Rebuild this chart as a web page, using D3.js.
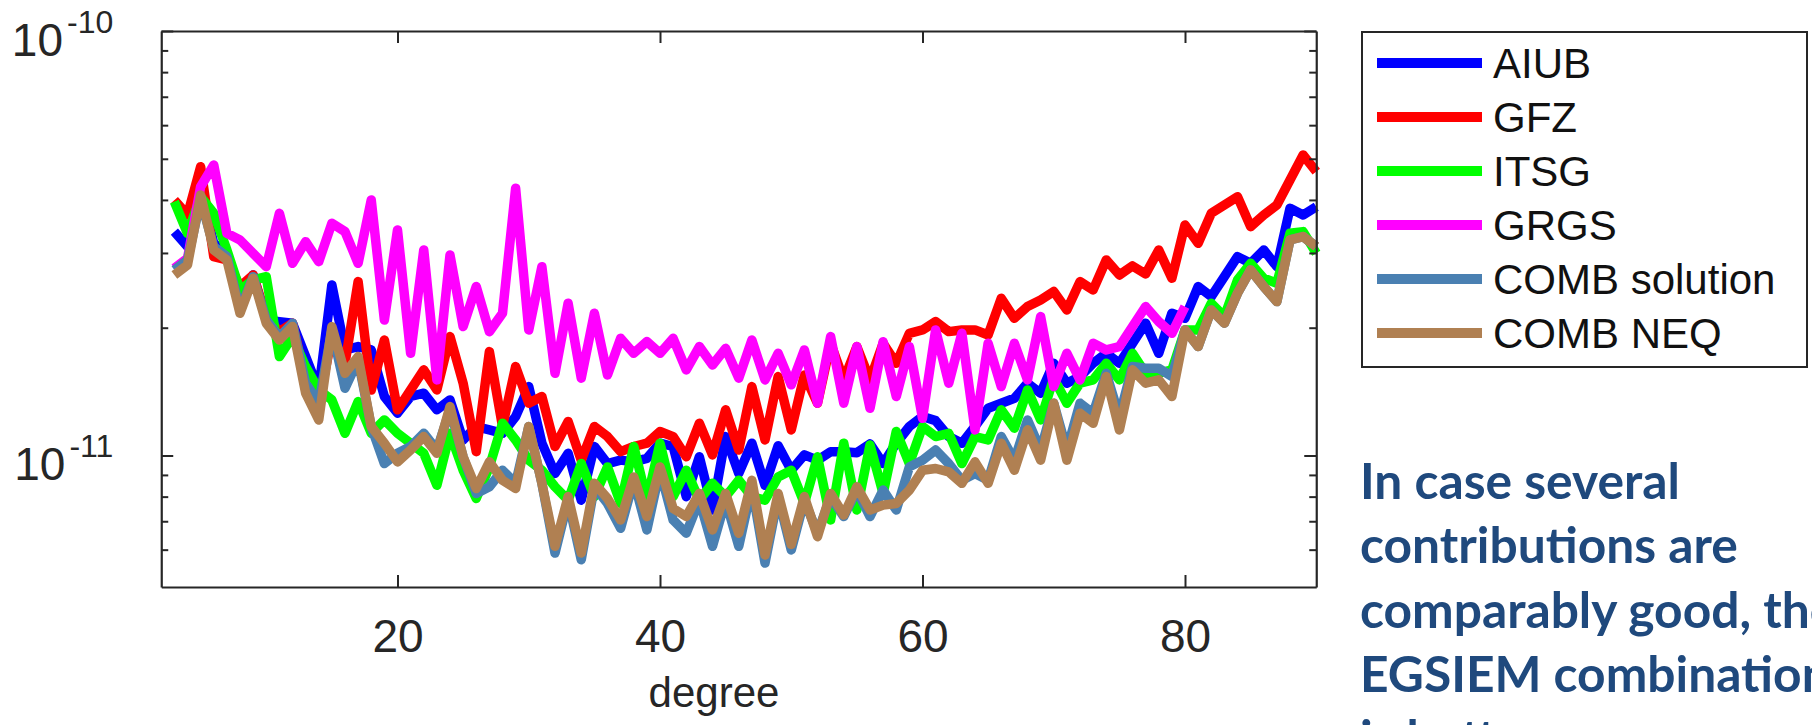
<!DOCTYPE html>
<html><head><meta charset="utf-8">
<script src="https://cdn.jsdelivr.net/npm/d3@7"></script>
<style>
html,body{margin:0;padding:0;background:#fff;overflow:hidden;}
svg{display:block;}
</style></head><body>
<svg id="chart" width="1812" height="725"></svg>
<script>
// ---- data (values in units of 1e-11) ----
const degrees = [3,4,5,6,7,8,9,10,11,12,13,14,15,16,17,18,19,20,21,22,23,24,25,26,27,28,29,30,31,32,33,34,35,36,37,38,39,40,41,42,43,44,45,46,47,48,49,50,51,52,53,54,55,56,57,58,59,60,61,62,63,64,65,66,67,68,69,70,71,72,73,74,75,76,77,78,79,80,81,82,83,84,85,86,87,88,89,90];
const grgsDegrees = [3,4,5,6,7,8,9,10,11,12,13,14,15,16,17,18,19,20,21,22,23,24,25,26,27,28,29,30,31,32,33,34,35,36,37,38,39,40,41,42,43,44,45,46,47,48,49,50,51,52,53,54,55,56,57,58,59,60,61,62,63,64,65,66,67,68,69,70,71,72,73,74,75,76,77,78,79,80];

const AIUB = [3.368,3.105,4.221,3.161,2.994,2.243,2.662,2.086,2.067,2.049,1.710,1.427,2.522,1.773,1.805,1.773,1.377,1.258,1.377,1.402,1.281,1.352,1.088,1.170,1.149,1.128,1.235,1.453,1.069,0.907,1.012,0.785,1.050,0.957,0.975,0.966,0.984,1.069,1.050,0.800,0.993,0.744,1.108,0.907,1.069,0.851,1.054,0.923,1.003,0.975,1.021,1.021,1.015,1.065,0.957,1.069,1.170,1.235,1.208,1.108,1.069,1.170,1.292,1.328,1.364,1.480,1.402,1.649,1.480,1.534,1.649,1.741,1.649,1.838,2.049,1.741,2.163,2.105,2.500,2.368,2.638,2.941,2.836,3.049,2.785,3.822,3.686,3.856];
const GFZ = [3.998,3.686,4.791,2.941,2.888,2.500,2.662,2.124,1.958,2.049,1.507,1.328,1.906,1.649,2.568,1.427,1.871,1.281,1.427,1.591,1.427,1.906,1.480,1.021,1.757,1.170,1.620,1.328,1.377,1.050,1.202,0.975,1.170,1.108,1.021,1.050,1.069,1.139,1.108,0.993,1.191,1.003,1.281,1.030,1.453,1.088,1.534,1.149,1.548,1.328,1.838,1.507,1.805,1.507,1.838,1.649,1.940,1.976,2.067,1.958,1.976,1.976,1.923,2.346,2.105,2.243,2.325,2.433,2.202,2.568,2.455,2.888,2.662,2.796,2.677,3.049,2.615,3.492,3.161,3.720,3.891,4.071,3.460,3.686,3.891,4.457,5.104,4.663];
const ITSG = [3.962,3.337,4.071,3.720,3.049,2.455,2.591,2.638,1.710,1.906,1.620,1.427,1.352,1.128,1.340,1.128,1.213,1.128,1.069,1.012,0.851,1.128,0.923,0.792,0.940,1.191,1.088,0.975,0.923,0.844,0.785,0.957,0.800,0.940,0.771,1.050,0.785,1.069,0.800,0.923,0.785,0.860,0.800,0.874,0.800,0.785,0.890,0.923,0.771,0.993,0.705,1.069,0.744,1.059,0.814,1.139,0.957,1.170,1.108,1.128,0.957,1.108,1.088,1.281,1.160,1.427,1.213,1.521,1.328,1.480,1.507,1.649,1.507,1.741,1.562,1.562,1.591,1.976,1.976,2.284,2.124,2.591,2.836,2.615,2.545,3.337,3.368,2.994];
const GRGS = [2.760,2.914,4.298,4.834,3.337,3.219,2.994,2.785,3.720,2.836,3.190,2.862,3.523,3.368,2.836,3.998,2.086,3.398,1.741,3.049,1.507,2.967,2.012,2.500,1.958,2.163,4.260,1.976,2.785,1.562,2.284,1.521,2.163,1.548,1.888,1.741,1.854,1.741,1.888,1.591,1.805,1.634,1.788,1.521,1.871,1.507,1.741,1.467,1.773,1.328,1.906,1.328,1.805,1.292,1.854,1.377,1.805,1.224,1.976,1.480,1.940,1.149,1.838,1.453,1.838,1.507,2.124,1.453,1.741,1.507,1.838,1.773,1.805,2.012,2.243,2.067,1.940,2.243];
const COMB_solution = [2.736,2.888,3.998,3.105,2.941,2.202,2.638,2.086,1.906,2.049,1.480,1.328,1.976,1.440,1.679,1.170,0.957,1.012,1.050,1.128,1.030,1.281,0.993,0.814,0.844,0.923,0.860,1.170,0.860,0.589,0.785,0.568,0.844,0.771,0.674,0.874,0.668,0.923,0.705,0.656,0.785,0.611,0.785,0.611,0.844,0.558,0.800,0.599,0.785,0.656,0.800,0.718,0.829,0.718,0.829,0.744,0.940,0.975,1.030,0.957,0.874,0.907,0.874,1.108,0.975,1.213,1.030,1.328,1.030,1.328,1.258,1.562,1.235,1.620,1.605,1.605,1.534,1.976,1.805,2.202,2.049,2.411,2.736,2.500,2.304,3.219,3.278,3.105];
const COMB_NEQ = [2.662,2.811,4.108,3.049,2.888,2.163,2.615,2.049,1.871,2.012,1.402,1.213,2.012,1.562,1.710,1.170,1.069,0.966,1.030,1.108,1.012,1.304,0.993,0.836,0.966,0.874,0.836,1.170,0.860,0.611,0.800,0.589,0.860,0.792,0.705,0.890,0.718,0.940,0.750,0.718,0.814,0.668,0.814,0.656,0.874,0.583,0.814,0.617,0.800,0.644,0.814,0.724,0.844,0.744,0.764,0.771,0.829,0.923,0.932,0.915,0.860,0.966,0.860,1.069,0.923,1.149,0.975,1.328,0.975,1.258,1.191,1.534,1.149,1.591,1.480,1.507,1.377,1.976,1.805,2.202,2.049,2.411,2.736,2.500,2.304,3.219,3.278,3.105];

const seriesNames = ["AIUB","GFZ","ITSG","GRGS","COMB solution","COMB NEQ"];
const seriesColors = ["#0000ff","#ff0000","#00ff00","#ff00ff","#4a80b2","#b08052"];
const xTicks = [20,40,60,80];
const yMajorTicks = [1e-10,1e-11];
const yMajorExp = ["-10","-11"];
const yMinorTicks = [2e-11,3e-11,4e-11,5e-11,6e-11,7e-11,8e-11,9e-11,6e-12,7e-12,8e-12,9e-12];
const unit = 1e-11;
const annotationLines = ["In case several","contributions are","comparably good, the","EGSIEM combination","is better"];

// ---- layout ----
const svg = d3.select("#chart");
const L = 161.25, R = 1316.25, T = 31, B = 587;
const x = d3.scaleLinear().domain([2, 90]).range([L, R]);
const y = d3.scaleLog().domain([4.9e-12, 1e-10]).range([B, T]);
const axisColor = "#262626";
const tickFont = "'Liberation Sans', Arial, Helvetica, sans-serif";

const series = [
  {name: seriesNames[0], color: seriesColors[0], deg: degrees, v: AIUB},
  {name: seriesNames[1], color: seriesColors[1], deg: degrees, v: GFZ},
  {name: seriesNames[2], color: seriesColors[2], deg: degrees, v: ITSG},
  {name: seriesNames[3], color: seriesColors[3], deg: grgsDegrees, v: GRGS},
  {name: seriesNames[4], color: seriesColors[4], deg: degrees, v: COMB_solution},
  {name: seriesNames[5], color: seriesColors[5], deg: degrees, v: COMB_NEQ}
];

// lines
const line = d3.line().x(d => x(d[0])).y(d => y(d[1] * unit));
const gLines = svg.append("g");
series.forEach(s => {
  gLines.append("path")
    .datum(s.deg.map((dg, i) => [dg, s.v[i]]))
    .attr("d", line)
    .attr("fill", "none")
    .attr("stroke", s.color)
    .attr("stroke-width", 9.5)
    .attr("stroke-linejoin", "round")
    .attr("stroke-linecap", "butt");
});

// axes (box with inward ticks)
function styleAxis(g) {
  g.selectAll(".domain").attr("stroke", axisColor).attr("stroke-width", 2.2);
  g.selectAll(".tick line").attr("stroke", axisColor).attr("stroke-width", 2);
}
const gb = svg.append("g").attr("transform", `translate(0,${B})`)
  .call(d3.axisBottom(x).tickValues(xTicks).tickSize(-12).tickSizeOuter(0).tickPadding(32));
styleAxis(gb);
gb.selectAll("text").attr("font-family", tickFont).attr("font-size", 46).attr("fill", axisColor);

const gt = svg.append("g").attr("transform", `translate(0,${T})`)
  .call(d3.axisTop(x).tickValues(xTicks).tickSize(-12).tickSizeOuter(0).tickFormat(""));
styleAxis(gt);

const gl = svg.append("g").attr("transform", `translate(${L},0)`)
  .call(d3.axisLeft(y).tickValues(yMajorTicks).tickSize(-12).tickSizeOuter(0).tickFormat(""));
styleAxis(gl);
const glm = svg.append("g").attr("transform", `translate(${L},0)`)
  .call(d3.axisLeft(y).tickValues(yMinorTicks).tickSize(-7).tickSizeOuter(0).tickFormat(""));
styleAxis(glm); glm.select(".domain").remove();

const gr = svg.append("g").attr("transform", `translate(${R},0)`)
  .call(d3.axisRight(y).tickValues(yMajorTicks).tickSize(-12).tickSizeOuter(0).tickFormat(""));
styleAxis(gr);
const grm = svg.append("g").attr("transform", `translate(${R},0)`)
  .call(d3.axisRight(y).tickValues(yMinorTicks).tickSize(-7).tickSizeOuter(0).tickFormat(""));
styleAxis(grm); grm.select(".domain").remove();

// y labels 10^exp
yMajorTicks.forEach((t, i) => {
  const tx = svg.append("text")
    .attr("x", L - 48).attr("y", y(t) + 25)
    .attr("text-anchor", "end")
    .attr("font-family", tickFont).attr("fill", axisColor);
  tx.append("tspan").attr("font-size", 46).text("10");
  tx.append("tspan").attr("font-size", 32).attr("dy", -23).attr("dx", 4).text(yMajorExp[i]);
});

// x label
svg.append("text")
  .attr("x", 714).attr("y", 707)
  .attr("text-anchor", "middle")
  .attr("font-family", tickFont).attr("font-size", 42).attr("fill", axisColor)
  .text("degree");

// legend
const lg = svg.append("g");
const lgX = 1362, lgY = 32, lgW = 445, lgH = 335;
lg.append("rect").attr("x", lgX).attr("y", lgY).attr("width", lgW).attr("height", lgH)
  .attr("fill", "#fff").attr("stroke", axisColor).attr("stroke-width", 2);
series.forEach((s, i) => {
  const cy = 63 + i * 54;
  lg.append("line").attr("x1", 1377).attr("x2", 1482).attr("y1", cy).attr("y2", cy)
    .attr("stroke", s.color).attr("stroke-width", 10);
  lg.append("text").attr("x", 1493).attr("y", cy + 15)
    .attr("font-family", tickFont).attr("font-size", 42).attr("fill", "#111")
    .text(s.name);
});

// annotation text (runs past the right and bottom edges, as in the slide)
const ann = svg.append("g");
const annFont = "Lato, 'Open Sans', sans-serif";
const annTexts = annotationLines.map((t, i) =>
  ann.append("text").attr("x", 1360).attr("y", 499 + i * 64.3)
    .attr("font-family", annFont).attr("font-weight", 700)
    .attr("font-size", 50).attr("fill", "#1f497d").text(t));
const w2 = annTexts[1].node().getComputedTextLength();
const fs = 50 * 378 / w2;
annTexts.forEach(t => t.attr("font-size", fs));
</script>
</body></html>
